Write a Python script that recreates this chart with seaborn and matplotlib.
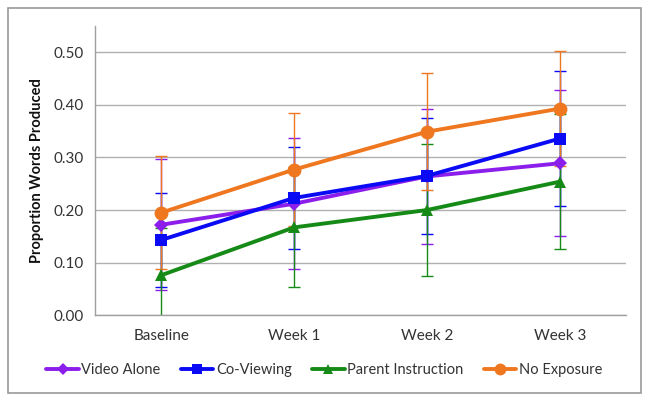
import matplotlib
matplotlib.use("Agg")
import matplotlib.pyplot as plt
import seaborn as sns
import pandas as pd
from matplotlib.patches import Rectangle

weeks = ["Baseline", "Week 1", "Week 2", "Week 3"]
groups = ["Video Alone", "Co-Viewing", "Parent Instruction", "No Exposure"]

video_alone = [0.172, 0.212, 0.264, 0.289]
co_viewing = [0.143, 0.223, 0.265, 0.336]
parent_instr = [0.076, 0.167, 0.200, 0.254]
no_exposure = [0.195, 0.277, 0.349, 0.393]

video_alone_sd = [0.125, 0.125, 0.128, 0.139]
co_viewing_sd = [0.089, 0.097, 0.111, 0.128]
parent_instr_sd = [0.090, 0.114, 0.126, 0.129]
no_exposure_sd = [0.108, 0.107, 0.111, 0.110]

means = [video_alone, co_viewing, parent_instr, no_exposure]
sds = [video_alone_sd, co_viewing_sd, parent_instr_sd, no_exposure_sd]

colors = ["#8B1EEB", "#0A0AF5", "#168A16", "#EE7720"]
markers = ["D", "s", "^", "o"]
msizes = [7, 9, 9, 10]

rows = []
for g, vals in zip(groups, means):
    for w, v in zip(weeks, vals):
        rows.append({"week": w, "group": g, "value": v})
df = pd.DataFrame(rows)

sns.set_theme(style="white")
plt.rcParams['font.family'] = ['Lato', 'DejaVu Sans']

fig = plt.figure(figsize=(6.49, 4.01), dpi=100)
ax = fig.add_axes([0.146, 0.214, 0.819, 0.721])

# outer chart border
fig.patches.append(Rectangle((0.013, 0.02), 0.975, 0.96, transform=fig.transFigure,
                             fill=False, edgecolor="#9a9a9a", linewidth=1.2))

x = list(range(len(weeks)))
for vals, sd, c in zip(means, sds, colors):
    ax.errorbar(x, vals, yerr=sd, fmt="none", ecolor=c, elinewidth=1.0,
                capsize=4, capthick=1.0, zorder=2)

sns.lineplot(data=df, x="week", y="value", hue="group", style="group",
             palette=dict(zip(groups, colors)), markers=dict(zip(groups, markers)),
             dashes=False, linewidth=2.8, ax=ax, legend=False, zorder=3,
             markeredgewidth=0)
for line, ms in zip(ax.get_lines()[-4:], msizes):
    line.set_markersize(ms)

ax.set_xlim(-0.5, 3.5)
ax.set_ylim(0, 0.55)
ax.set_yticks([0, 0.1, 0.2, 0.3, 0.4, 0.5])
ax.set_yticklabels([f"{v:.2f}" for v in [0, 0.1, 0.2, 0.3, 0.4, 0.5]])
ax.set_xticks(x)
ax.set_xticklabels(weeks)
ax.set_xticks([-0.5, 0.5, 1.5, 2.5, 3.5], minor=True)
ax.tick_params(axis="x", which="major", length=0, pad=10, labelsize=11, colors="#333333")
ax.tick_params(axis="x", which="minor", length=5, width=1, color="#999999", direction="out")
ax.tick_params(axis="y", length=4, width=1, color="#999999", direction="out", labelsize=11,
               labelcolor="#333333", pad=4)
ax.grid(axis="y", color="#b0b0b0", linewidth=1)
ax.set_axisbelow(True)
for s in ["top", "right"]:
    ax.spines[s].set_visible(False)
for s in ["left", "bottom"]:
    ax.spines[s].set_color("#a0a0a0")
    ax.spines[s].set_linewidth(1)
ax.set_xlabel("")
ax.set_ylabel("Proportion Words Produced", fontsize=10.5, fontweight="bold", color="#111111", labelpad=7)

handles = [plt.Line2D([], [], color=c, marker=m, markersize=ms * 0.85, linewidth=2.8,
                      markeredgewidth=0) for c, m, ms in zip(colors, markers, msizes)]
fig.legend(handles, groups, loc="center", bbox_to_anchor=(0.5, 0.078), ncol=4, frameon=False,
           fontsize=10.5, handlelength=2.2, handletextpad=0.2, columnspacing=1.4,
           labelcolor="#333333")

fig.savefig("out.png", dpi=100)
